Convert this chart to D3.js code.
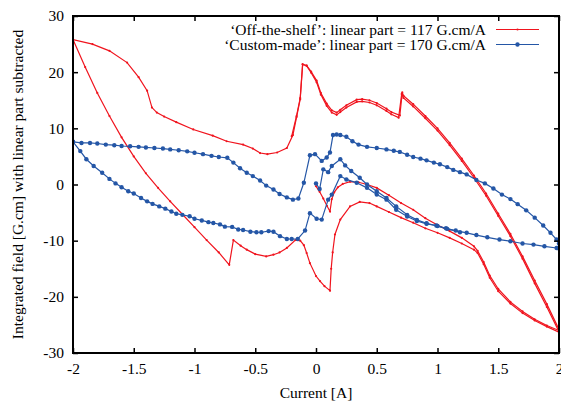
<!DOCTYPE html>
<html><head><meta charset="utf-8">
<script src="https://cdn.jsdelivr.net/npm/d3@7"></script>
<style>body{margin:0;background:#fff}svg{display:block}
svg text{font-family:"Liberation Serif","Times New Roman",Times,serif !important;}</style>
</head><body>
<script>
// ---------------- DATA ----------------
const xTicks = [-2,-1.5,-1,-0.5,0,0.5,1,1.5,2];
const yTicks = [-30,-20,-10,0,10,20,30];
const seriesNames = ["‘Off-the-shelf’: linear part = 117 G.cm/A", "‘Custom-made’: linear part = 170 G.cm/A"];

// Off-the-shelf (red): virgin branch 0 -> +2
const redVirginI = [0.0,0.03,0.06,0.09,0.115,0.13,0.15,0.18,0.22,0.28,0.35,0.42,0.5,0.6,0.7,0.8,0.9,1.0,1.1,1.2,1.3,1.33,1.38,1.43,1.5,1.6,1.7,1.8,1.9,2.0];
const redVirginB = [-0.3,-1.3,-2.5,-3.8,-4.8,-2.6,-1.4,-0.5,0.1,0.5,0.4,0.0,-0.6,-1.9,-3.3,-4.5,-6.0,-7.2,-8.3,-9.5,-11.0,-11.8,-13.8,-16.2,-18.6,-20.9,-22.6,-24.0,-25.1,-26.0];
// descending branch +2 -> -2
const redDescI = [2.0,1.9,1.8,1.7,1.6,1.5,1.4,1.3,1.2,1.1,1.0,0.9,0.8,0.72,0.705,0.68,0.62,0.58,0.5,0.44,0.38,0.335,0.25,0.2,0.17,0.13,0.088,0.04,0.005,-0.04,-0.077,-0.11,-0.13,-0.16,-0.19,-0.24,-0.32,-0.4,-0.46,-0.52,-0.6,-0.735,-0.85,-1.01,-1.15,-1.25,-1.31,-1.35,-1.39,-1.46,-1.555,-1.7,-1.84,-2.0];
const redDescB = [-26.2,-21.8,-17.6,-13.2,-9.2,-5.6,-2.0,1.2,4.2,7.0,9.6,11.8,13.9,15.4,16.1,11.9,12.5,13.1,14.1,14.6,14.8,14.7,13.7,12.9,12.4,12.8,14.0,16.0,18.2,19.9,21.1,21.4,15.2,12.0,8.8,6.5,5.7,5.4,5.6,6.4,7.1,7.7,8.7,9.8,11.1,12.1,12.8,13.7,16.7,19.1,21.7,23.8,25.0,25.8];
// ascending branch -2 -> +2
const redAscI = [-2.0,-1.9,-1.8,-1.7,-1.6,-1.5,-1.4,-1.3,-1.2,-1.1,-1.0,-0.9,-0.8,-0.714,-0.68,-0.62,-0.57,-0.5,-0.41,-0.35,-0.3,-0.24,-0.17,-0.13,-0.1,-0.077,-0.05,0.0,0.033,0.07,0.115,0.125,0.137,0.156,0.2,0.28,0.36,0.44,0.5,0.6,0.7,0.8,0.9,1.0,1.1,1.2,1.3,1.33,1.38,1.43,1.5,1.6,1.7,1.8,1.9,2.0];
const redAscB = [25.8,20.9,16.3,12.2,8.4,5.0,2.0,-0.6,-3.0,-5.3,-7.6,-9.9,-12.1,-14.3,-9.9,-10.9,-11.6,-12.4,-12.8,-12.5,-12.1,-11.3,-9.9,-10.0,-10.8,-12.2,-14.0,-16.3,-17.2,-18.1,-18.9,-15.0,-12.1,-8.9,-6.25,-3.9,-3.1,-3.3,-3.9,-4.9,-5.9,-6.8,-7.8,-8.6,-9.5,-10.5,-11.6,-12.2,-14.2,-16.6,-19.0,-21.2,-22.9,-24.2,-25.3,-26.3];
// second descending branch +2 -> -0.2
const redDesc2I = [2.0,1.9,1.8,1.7,1.6,1.5,1.4,1.3,1.2,1.1,1.0,0.9,0.8,0.72,0.71,0.69,0.62,0.58,0.5,0.44,0.38,0.335,0.25,0.2,0.17,0.13,0.088,0.04,0.005,-0.04,-0.077,-0.11,-0.13,-0.16,-0.2];
const redDesc2B = [-25.8,-21.3,-17.1,-12.8,-8.8,-5.2,-1.6,1.6,4.6,7.4,10.0,12.2,14.3,15.8,16.4,12.3,12.9,13.5,14.5,15.0,15.2,15.1,14.1,13.3,12.8,13.2,14.4,16.3,18.5,20.1,21.2,21.4,15.4,12.2,8.6];

// Custom-made (blue): upper branch
const blueUpI = [-2.0,-1.93,-1.86,-1.8,-1.73,-1.66,-1.6,-1.53,-1.46,-1.4,-1.33,-1.26,-1.2,-1.13,-1.06,-1.0,-0.93,-0.86,-0.8,-0.73,-0.68,-0.625,-0.57,-0.52,-0.46,-0.41,-0.35,-0.3,-0.24,-0.19,-0.145,-0.1,-0.05,-0.008,0.047,0.088,0.115,0.14,0.17,0.2,0.25,0.3,0.35,0.42,0.5,0.58,0.64,0.69,0.75,0.8,0.86,0.91,0.97,1.02,1.08,1.13,1.185,1.24,1.32,1.39,1.46,1.53,1.6,1.66,1.73,1.8,1.87,1.93,1.98,2.0];
const blueUpB = [7.6,7.4,7.4,7.3,7.1,7.0,6.85,6.8,6.7,6.6,6.5,6.4,6.25,6.1,5.9,5.65,5.4,5.1,4.9,4.75,3.9,2.9,2.1,1.5,0.7,-0.2,-0.9,-1.7,-2.3,-2.7,-2.5,0.3,5.2,5.4,4.2,4.8,5.7,8.8,8.9,8.8,8.5,7.7,7.1,6.7,6.5,6.25,6.0,5.8,5.3,4.9,4.6,4.3,3.9,3.6,3.1,2.6,2.2,1.8,0.8,0.2,-0.7,-1.8,-2.6,-3.5,-4.6,-5.9,-7.3,-8.6,-9.8,-10.5];
// lower branch
const blueLowI = [-2.0,-1.94,-1.89,-1.83,-1.76,-1.7,-1.65,-1.6,-1.545,-1.5,-1.44,-1.39,-1.345,-1.29,-1.24,-1.19,-1.15,-1.1,-1.04,-1.0,-0.94,-0.885,-0.845,-0.79,-0.75,-0.69,-0.64,-0.6,-0.54,-0.49,-0.45,-0.39,-0.35,-0.296,-0.24,-0.2,-0.15,-0.09,-0.05,0.005,0.047,0.1,0.13,0.2,0.25,0.335,0.42,0.5,0.58,0.66,0.75,0.83,0.91,0.99,1.07,1.15,1.24,1.32,1.41,1.51,1.6,1.7,1.79,1.88,1.98,2.0];
const blueLowB = [7.6,5.95,4.5,3.3,2.1,1.0,0.2,-0.5,-1.2,-1.6,-2.4,-3.0,-3.45,-3.9,-4.3,-4.8,-5.2,-5.4,-5.65,-6.1,-6.4,-6.7,-6.85,-7.1,-7.5,-7.55,-8.0,-8.1,-8.4,-8.5,-8.5,-8.3,-8.4,-9.2,-9.7,-9.7,-9.7,-8.2,-5.1,-6.1,-6.25,-2.7,-1.8,1.5,0.9,0.3,-0.6,-1.8,-2.7,-4.5,-5.7,-6.5,-7.0,-7.3,-7.8,-8.2,-8.6,-9.0,-9.4,-9.8,-10.1,-10.5,-10.7,-11.0,-11.3,-11.4];
// virgin branch
const blueVirginI = [0.0,0.03,0.06,0.1,0.13,0.2,0.24,0.29,0.36,0.42,0.5,0.58,0.66,0.75,0.83,0.91,1.0,1.08,1.185];
const blueVirginB = [0.2,-0.8,2.7,2.2,3.3,4.5,3.4,2.4,1.2,0.0,-1.2,-2.4,-3.9,-5.4,-6.3,-6.9,-7.4,-7.9,-8.5];

// ---------------- CHART ----------------
const W = 561, H = 403;
const m = {l:73, r:2, t:16, b:50};
const red = "#f0141e", blue = "#2456a6";
const fs = 15.5;

const svg = d3.select("body").append("svg").attr("width",W).attr("height",H);
const x = d3.scaleLinear().domain([-2,2]).range([m.l, W-m.r]);
const y = d3.scaleLinear().domain([-30,30]).range([H-m.b, m.t]);

const zip = (a,b)=>a.map((v,i)=>[v,b[i]]);
const line = d3.line().x(d=>x(d[0])).y(d=>y(d[1]));

svg.append("clipPath").attr("id","c").append("rect")
  .attr("x",m.l).attr("y",m.t).attr("width",W-m.r-m.l).attr("height",H-m.b-m.t);
const plot = svg.append("g").attr("clip-path","url(#c)");

function drawRed(xs, ys){
  const d = zip(xs,ys);
  plot.append("path").datum(d).attr("d",line).attr("fill","none").attr("stroke",red).attr("stroke-width",1.2);
  plot.append("g").selectAll("circle").data(d).join("circle")
    .attr("cx",p=>x(p[0])).attr("cy",p=>y(p[1])).attr("r",1.1).attr("fill",red);
}
function drawBlue(xs, ys){
  const d = zip(xs,ys);
  plot.append("path").datum(d).attr("d",line).attr("fill","none").attr("stroke",blue).attr("stroke-width",1.2);
  plot.append("g").selectAll("circle").data(d).join("circle")
    .attr("cx",p=>x(p[0])).attr("cy",p=>y(p[1])).attr("r",2.2).attr("fill",blue);
}
drawRed(redVirginI, redVirginB);
drawRed(redDescI, redDescB);
drawRed(redAscI, redAscB);
drawRed(redDesc2I, redDesc2B);
drawBlue(blueUpI, blueUpB);
drawBlue(blueLowI, blueLowB);
drawBlue(blueVirginI, blueVirginB);

// axes (inward ticks, mirrored)
const tk = 5;
const fmt = d=>d<0?"-"+Math.abs(d):String(d);
const axB = svg.append("g").attr("transform",`translate(0,${H-m.b})`)
  .call(d3.axisBottom(x).tickValues(xTicks).tickSize(-tk).tickPadding(10).tickFormat(fmt));
const axT = svg.append("g").attr("transform",`translate(0,${m.t})`)
  .call(d3.axisTop(x).tickValues(xTicks).tickSize(-tk).tickFormat(""));
const axL = svg.append("g").attr("transform",`translate(${m.l},0)`)
  .call(d3.axisLeft(y).tickValues(yTicks).tickSize(-tk).tickPadding(9).tickFormat(fmt));
const axR = svg.append("g").attr("transform",`translate(${W-m.r},0)`)
  .call(d3.axisRight(y).tickValues(yTicks).tickSize(-tk).tickFormat(""));
[axB,axT,axL,axR].forEach(a=>{
  a.select(".domain").remove();
  a.selectAll(".tick line").attr("stroke","#000").attr("stroke-width",1.5);
  a.selectAll("text").attr("font-size",fs).attr("fill","#000");
});

svg.append("rect").attr("x",m.l).attr("y",m.t).attr("width",W-m.r-m.l).attr("height",H-m.b-m.t)
  .attr("fill","none").attr("stroke","#000").attr("stroke-width",2);

// axis titles
svg.append("text").attr("x",(m.l+W-m.r)/2).attr("y",398).attr("text-anchor","middle")
  .attr("font-size",fs).text("Current [A]");
svg.append("text").attr("transform",`translate(23,${(m.t+H-m.b)/2}) rotate(-90)`).attr("text-anchor","middle")
  .attr("font-size",fs).text("Integrated field [G.cm] with linear part subtracted");

// legend
const lg = svg.append("g");
const legColors = [red, blue];
seriesNames.forEach((name,i)=>{
  const yy = 29.5 + i*15;
  lg.append("text").attr("x",486).attr("y",yy+5).attr("text-anchor","end")
    .attr("font-size",fs).text(name);
  lg.append("line").attr("x1",496).attr("x2",539).attr("y1",yy).attr("y2",yy)
    .attr("stroke",legColors[i]).attr("stroke-width",1.2);
  lg.append("circle").attr("cx",517.5).attr("cy",yy).attr("r",i?2.2:1.1).attr("fill",legColors[i]);
});
</script>
</body></html>
